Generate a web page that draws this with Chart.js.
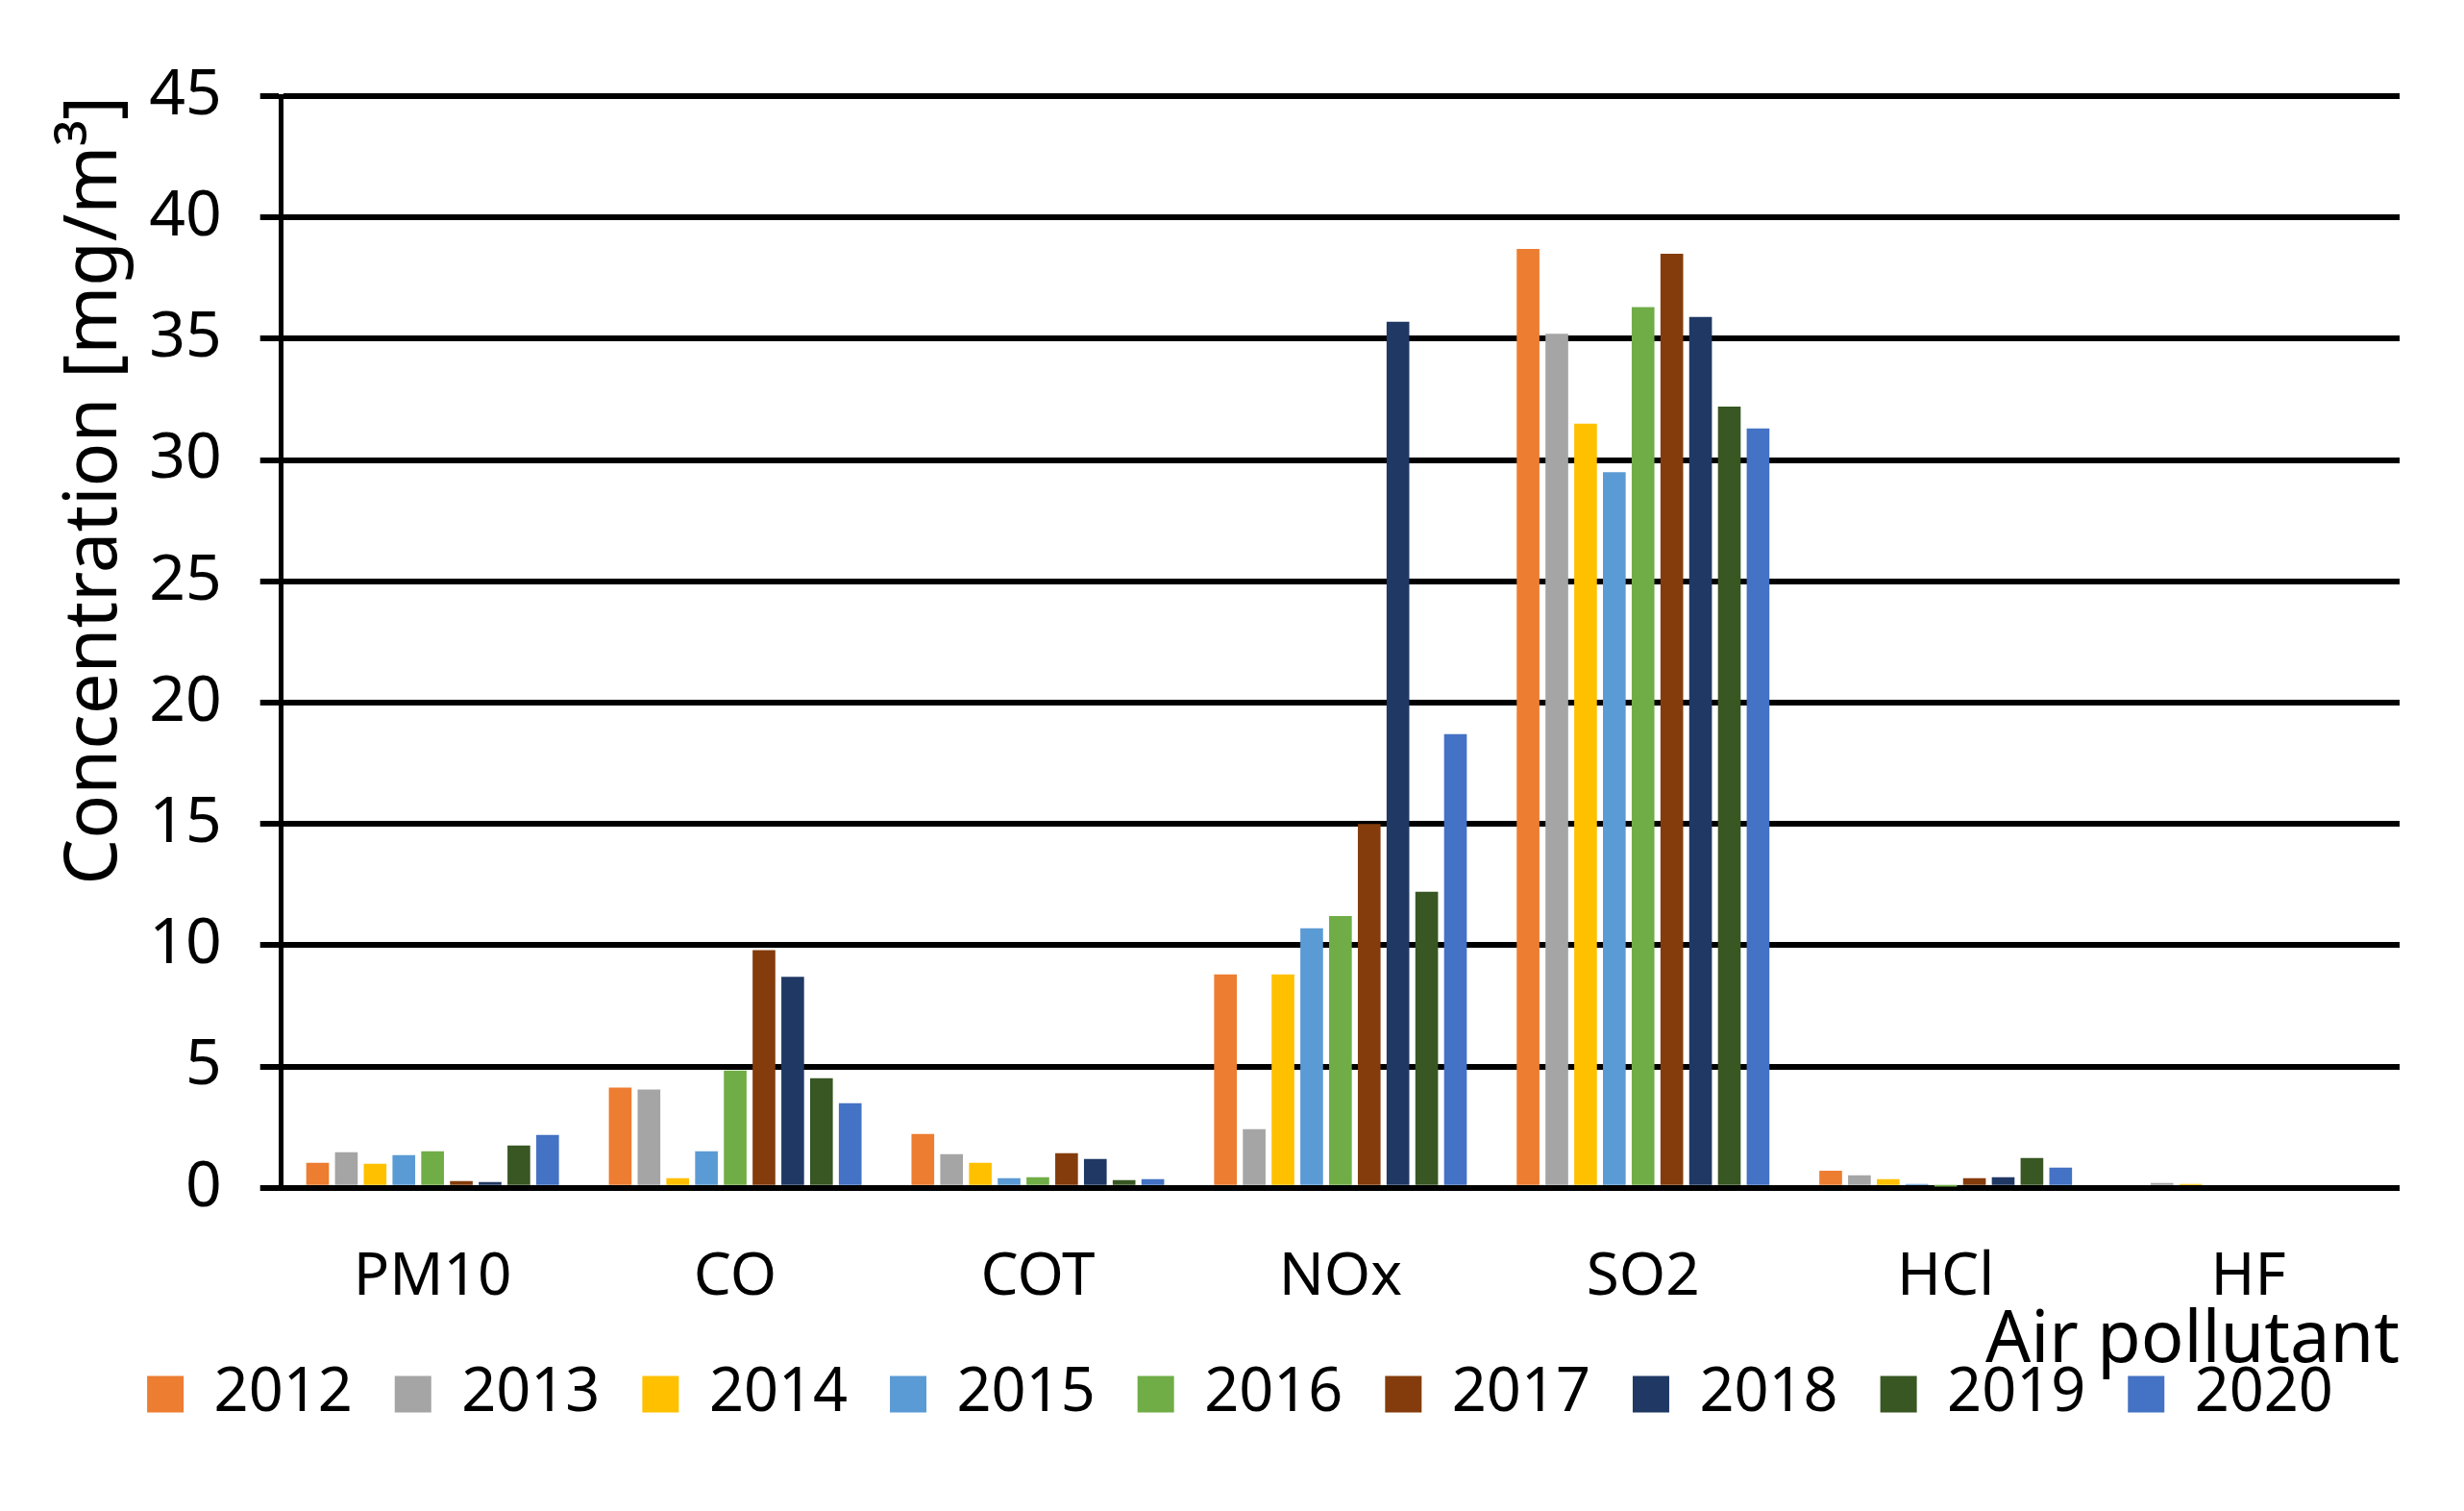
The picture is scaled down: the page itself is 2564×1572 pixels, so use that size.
<!DOCTYPE html>
<html>
<head>
<meta charset="utf-8">
<script src="https://cdn.jsdelivr.net/npm/chart.js@4.4.1/dist/chart.umd.min.js"></script>
<style>
  html, body { margin: 0; padding: 0; background: #fff; }
</style>
</head>
<body>
<canvas id="pollutantchart" width="2564" height="1572"></canvas>
<script>
// categories and per-year series (mg/m3)
var pollutants = ['PM10', 'CO', 'COT', 'NOx', 'SO2', 'HCl', 'HF'];
var years = ['2012', '2013', '2014', '2015', '2016', '2017', '2018', '2019', '2020'];
var v2012 = [1.03, 4.13, 2.22, 8.8, 38.7, 0.71, 0];
var v2013 = [1.47, 4.05, 1.39, 2.42, 35.2, 0.52, 0.2];
var v2014 = [0.99, 0.40, 1.03, 8.8, 31.5, 0.36, 0.16];
var v2015 = [1.35, 1.51, 0.40, 10.7, 29.5, 0.16, 0];
var v2016 = [1.51, 4.84, 0.44, 11.2, 36.3, 0.05, 0];
var v2017 = [0.28, 9.8, 1.43, 15.0, 38.5, 0.40, 0];
var v2018 = [0.24, 8.7, 1.19, 35.7, 35.9, 0.44, 0];
var v2019 = [1.75, 4.52, 0.32, 12.2, 32.2, 1.23, 0];
var v2020 = [2.18, 3.49, 0.36, 18.7, 31.3, 0.83, 0];
var yTicks = [0, 5, 10, 15, 20, 25, 30, 35, 40, 45];

var seriesValues = [v2012, v2013, v2014, v2015, v2016, v2017, v2018, v2019, v2020];
var colours = ['#ED7D31', '#A5A5A5', '#FFC000', '#5B9BD5', '#70AD47', '#843C0C', '#203864', '#385723', '#4472C4'];

var datasets = years.map(function (y, i) {
    return {
        label: y,
        data: seriesValues[i],
        backgroundColor: colours[i],
        borderWidth: 0,
        categoryPercentage: 0.855,
        barPercentage: 0.79
    };
});

var ctx = document.getElementById('pollutantchart').getContext('2d');
var chart = new Chart(ctx, {
    type: 'bar',
    data: {
        labels: pollutants,
        datasets: datasets
    },
    options: {
        responsive: false,
        animation: false,
        devicePixelRatio: 1,
        layout: {
            padding: { left: 84, right: 67, top: 100, bottom: 80 }
        },
        plugins: {
            legend: {
                position: 'bottom',
                labels: {
                    color: '#000',
                    boxWidth: 38,
                    boxHeight: 38,
                    padding: 44,
                    font: { family: 'Noto Sans', size: 63 }
                }
            },
            tooltip: { enabled: false }
        },
        scales: {
            x: {
                grid: { display: false },
                border: { display: false },
                ticks: {
                    color: '#000',
                    padding: 48,
                    font: { family: 'Noto Sans', size: 62 }
                },
                title: {
                    display: true,
                    text: 'Air pollutant',
                    align: 'end',
                    color: '#000',
                    padding: { top: -63, bottom: -65 },
                    font: { family: 'Noto Sans', size: 74 }
                }
            },
            y: {
                min: 0,
                max: 45,
                afterBuildTicks: function (axis) {
                    axis.ticks = yTicks.map(function (t) { return { value: t }; });
                },
                grid: {
                    color: '#000',
                    lineWidth: 6,
                    tickLength: 22
                },
                border: { display: true, color: '#000', width: 5 },
                ticks: {
                    color: '#000',
                    padding: 40,
                    font: { family: 'Noto Sans', size: 66 }
                },
                title: {
                    display: true,
                    text: 'Concentration [mg/m³]',
                    align: 'end',
                    color: '#000',
                    padding: -30,
                    font: { family: 'Noto Sans', size: 76 }
                }
            }
        }
    }
});
</script>
</body>
</html>
